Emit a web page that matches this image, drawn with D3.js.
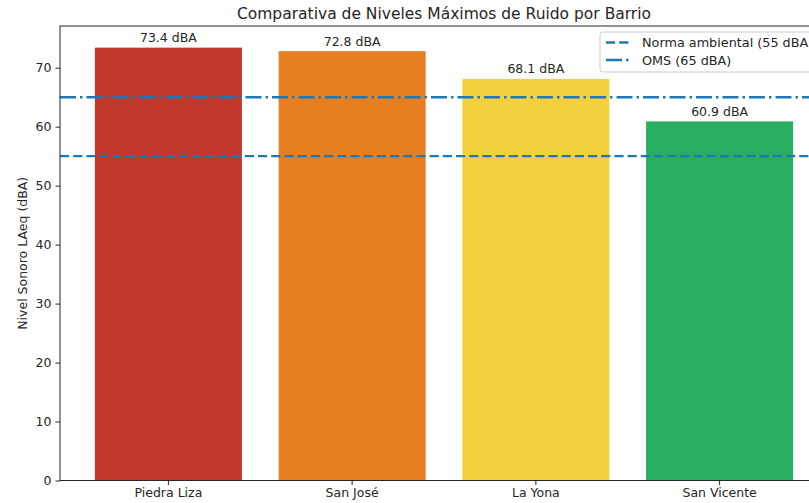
<!DOCTYPE html>
<html>
<head>
<meta charset="utf-8">
<script src="https://cdn.jsdelivr.net/npm/d3@7"></script>
<style>
  body { margin: 0; background: #fff; }
  text { font-family: "DejaVu Sans", sans-serif; fill: #262626; }
</style>
</head>
<body>
<svg id="chart" width="809" height="503"></svg>
<script>
var barrios = ['Piedra Liza', 'San José', 'La Yona', 'San Vicente'];
var niveles = [73.4, 72.8, 68.1, 60.9];
var colores = ['#c0392b', '#e67e22', '#f4d03f', '#27ae60'];
var yTicks = [0, 10, 20, 30, 40, 50, 60, 70];
var umbrales = [55, 65];
var umbralLabels = ['Norma ambiental (55 dBA)', 'OMS (65 dBA)'];
var umbralDash = ['9.2,4', '16,4,2.5,4'];

var svg = d3.select('#chart'),
    axL = 60, axR = 828, axT = 26, axB = 480.5;

var x = d3.scaleBand()
    .domain(barrios)
    .range([axL, axR])
    .paddingInner(0.2)
    .paddingOuter(0.19);

var y = d3.scaleLinear()
    .domain([0, d3.max(niveles) * 1.05])
    .range([axB, axT]);

// bars
svg.selectAll('.bar')
    .data(niveles)
  .enter().append('rect')
    .attr('class', 'bar')
    .attr('x', function(d, i) { return x(barrios[i]); })
    .attr('y', function(d) { return y(d); })
    .attr('width', x.bandwidth())
    .attr('height', function(d) { return axB - y(d); })
    .style('fill', function(d, i) { return colores[i]; });

// value labels
svg.selectAll('.val')
    .data(niveles)
  .enter().append('text')
    .attr('class', 'val')
    .attr('x', function(d, i) { return x(barrios[i]) + x.bandwidth() / 2; })
    .attr('y', function(d) { return y(d) - 5.5; })
    .attr('text-anchor', 'middle')
    .style('font-size', '12.5px')
    .text(function(d) { return d.toFixed(1) + ' dBA'; });

// threshold lines
svg.selectAll('.umbral')
    .data(umbrales)
  .enter().append('line')
    .attr('class', 'umbral')
    .attr('x1', axL)
    .attr('x2', axR)
    .attr('y1', function(d) { return y(d); })
    .attr('y2', function(d) { return y(d); })
    .style('stroke', '#1f77b4')
    .style('stroke-width', 2.4)
    .style('stroke-dasharray', function(d, i) { return umbralDash[i]; });

// axes
var yAxis = svg.append('g')
    .attr('transform', 'translate(' + axL + ',0)')
    .call(d3.axisLeft(y).tickValues(yTicks).tickSize(4.5).tickPadding(4));

var xAxis = svg.append('g')
    .attr('transform', 'translate(0,' + axB + ')')
    .call(d3.axisBottom(x).tickSize(4.5).tickPadding(3));

[yAxis, xAxis].forEach(function(a) {
    a.selectAll('text').style('font-size', '12.5px').style('fill', '#262626');
    a.selectAll('line').style('stroke', '#262626').style('stroke-width', 1);
    a.select('.domain').remove();
});

// spines
svg.append('rect')
    .attr('x', axL)
    .attr('y', axT)
    .attr('width', axR - axL)
    .attr('height', axB - axT)
    .style('fill', 'none')
    .style('stroke', '#262626')
    .style('stroke-width', 1);

// title and y label
svg.append('text')
    .attr('x', (axL + axR) / 2)
    .attr('y', 19)
    .attr('text-anchor', 'middle')
    .style('font-size', '15.5px')
    .text('Comparativa de Niveles Máximos de Ruido por Barrio');

svg.append('text')
    .attr('transform', 'translate(26.5,' + (axT + axB) / 2 + ') rotate(-90)')
    .attr('text-anchor', 'middle')
    .style('font-size', '12.5px')
    .text('Nivel Sonoro LAeq (dBA)');

// legend
var lg = svg.append('g').attr('transform', 'translate(600,32)');
lg.append('rect')
    .attr('width', 260)
    .attr('height', 40)
    .attr('rx', 3)
    .style('fill', '#fff')
    .style('fill-opacity', 0.8)
    .style('stroke', '#cccccc')
    .style('stroke-width', 1);

var items = lg.selectAll('.item')
    .data(umbralLabels)
  .enter().append('g')
    .attr('class', 'item')
    .attr('transform', function(d, i) { return 'translate(0,' + (10.5 + i * 17.5) + ')'; });

items.append('line')
    .attr('x1', 6)
    .attr('x2', 30)
    .style('stroke', '#1f77b4')
    .style('stroke-width', 2.4)
    .style('stroke-dasharray', function(d, i) { return umbralDash[i]; });

items.append('text')
    .attr('x', 42)
    .attr('y', 4.5)
    .style('font-size', '12.8px')
    .text(function(d) { return d; });
</script>
</body>
</html>
